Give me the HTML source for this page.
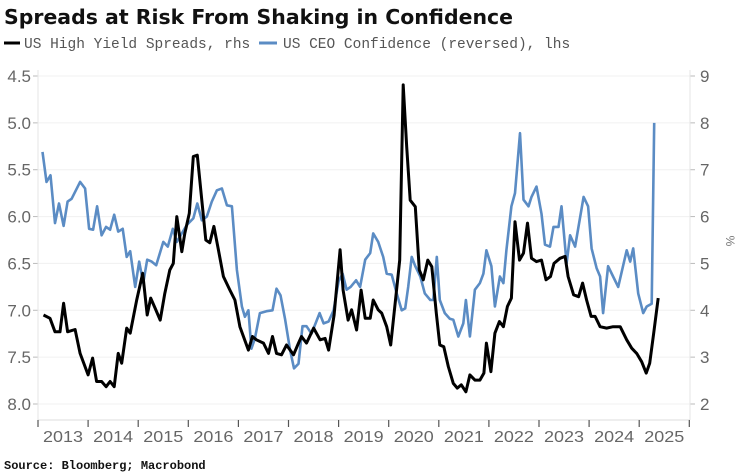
<!DOCTYPE html>
<html><head><meta charset="utf-8"><style>
body{margin:0;background:#fff;}
svg{display:block;}
</style></head><body>
<svg id="chart" width="737" height="476" viewBox="0 0 737 476" xmlns="http://www.w3.org/2000/svg">
<text x="4" y="24" font-family="DejaVu Sans, Liberation Sans, sans-serif" font-weight="bold" font-size="20" fill="#111" textLength="509" lengthAdjust="spacingAndGlyphs">Spreads at Risk From Shaking in Confidence</text>
<g>
<line x1="4" y1="43" x2="20" y2="43" stroke="#000" stroke-width="3"/>
<text x="24" y="48" font-family="Liberation Mono, monospace" font-size="14.5" fill="#555">US High Yield Spreads, rhs</text>
<line x1="259" y1="43" x2="277" y2="43" stroke="#5b8cc4" stroke-width="3"/>
<text x="283" y="48" font-family="Liberation Mono, monospace" font-size="14.5" fill="#555">US CEO Confidence (reversed), lhs</text>
</g>
<g id="grid"></g><g id="axes"></g><g id="series"></g>
<text x="0" y="0" transform="translate(726,241) rotate(90)" font-family="Liberation Sans, sans-serif" font-size="12" fill="#777" text-anchor="middle">%</text>
<text x="4" y="469" font-family="Liberation Mono, monospace" font-weight="bold" font-size="12" fill="#111">Source: Bloomberg; Macrobond</text>
</svg>
<script>
const years=[2013,2014,2015,2016,2017,2018,2019,2020,2021,2022,2023,2024,2025];
const leftTicks=[4.5,5.0,5.5,6.0,6.5,7.0,7.5,8.0];
const rightTicks=[9,8,7,6,5,4,3,2];
const hyDates=[2013.11,2013.24,2013.34,2013.44,2013.51,2013.59,2013.74,2013.84,2014.00,2014.09,2014.17,2014.27,2014.36,2014.44,2014.52,2014.60,2014.67,2014.77,2014.84,2014.97,2015.09,2015.18,2015.25,2015.34,2015.44,2015.53,2015.63,2015.70,2015.77,2015.87,2015.93,2016.02,2016.10,2016.18,2016.27,2016.35,2016.43,2016.51,2016.60,2016.70,2016.83,2016.93,2017.03,2017.20,2017.28,2017.36,2017.50,2017.60,2017.68,2017.76,2017.86,2017.96,2018.10,2018.20,2018.26,2018.36,2018.50,2018.63,2018.73,2018.80,2018.91,2019.03,2019.09,2019.19,2019.26,2019.36,2019.45,2019.53,2019.63,2019.69,2019.79,2019.86,2019.96,2020.04,2020.15,2020.22,2020.29,2020.36,2020.43,2020.53,2020.61,2020.69,2020.78,2020.86,2020.95,2021.02,2021.10,2021.19,2021.29,2021.37,2021.45,2021.54,2021.62,2021.72,2021.82,2021.90,2021.95,2022.04,2022.12,2022.21,2022.29,2022.37,2022.45,2022.52,2022.61,2022.69,2022.77,2022.85,2022.95,2023.05,2023.14,2023.23,2023.30,2023.42,2023.52,2023.58,2023.69,2023.79,2023.87,2023.95,2024.04,2024.12,2024.22,2024.35,2024.48,2024.62,2024.75,2024.85,2024.95,2025.05,2025.14,2025.21,2025.29,2025.38];
const hyValues=[3.90,3.83,3.54,3.54,4.15,3.54,3.59,3.08,2.62,2.98,2.48,2.48,2.37,2.48,2.37,3.08,2.87,3.62,3.51,4.22,4.79,3.90,4.26,4.04,3.79,4.36,4.86,5.00,6.00,5.25,5.64,6.07,7.28,7.31,6.35,5.50,5.44,5.79,5.29,4.72,4.43,4.22,3.65,3.15,3.44,3.37,3.30,3.08,3.44,3.08,3.05,3.26,3.05,3.30,3.44,3.30,3.62,3.37,3.40,3.15,3.90,5.29,4.43,3.79,4.01,3.58,4.43,3.83,3.83,4.22,4.01,3.94,3.65,3.26,4.36,5.07,8.81,7.49,6.35,6.21,4.86,4.65,5.07,4.93,3.94,3.26,3.22,2.80,2.44,2.34,2.41,2.26,2.62,2.51,2.51,2.66,3.30,2.69,3.51,3.76,3.65,4.08,4.26,5.89,5.07,5.22,5.86,5.11,5.04,5.07,4.65,4.72,5.00,5.11,5.15,4.72,4.33,4.29,4.58,4.22,3.87,3.87,3.65,3.62,3.65,3.65,3.37,3.19,3.08,2.90,2.66,2.87,3.51,4.26];
const ceoDates=[2013.09,2013.17,2013.25,2013.34,2013.42,2013.51,2013.59,2013.67,2013.84,2013.94,2014.02,2014.10,2014.18,2014.27,2014.36,2014.44,2014.52,2014.60,2014.69,2014.77,2014.84,2014.94,2015.02,2015.10,2015.18,2015.27,2015.36,2015.50,2015.59,2015.69,2015.77,2015.87,2015.97,2016.10,2016.18,2016.27,2016.37,2016.47,2016.57,2016.67,2016.77,2016.87,2016.97,2017.07,2017.13,2017.20,2017.26,2017.33,2017.43,2017.56,2017.68,2017.76,2017.84,2017.93,2018.03,2018.11,2018.20,2018.28,2018.36,2018.46,2018.62,2018.70,2018.80,2018.90,2019.00,2019.08,2019.16,2019.24,2019.35,2019.43,2019.53,2019.63,2019.69,2019.79,2019.89,2019.96,2020.06,2020.16,2020.26,2020.33,2020.39,2020.46,2020.53,2020.63,2020.72,2020.83,2020.89,2020.96,2021.02,2021.12,2021.22,2021.29,2021.39,2021.49,2021.54,2021.62,2021.72,2021.82,2021.89,2021.95,2022.05,2022.12,2022.22,2022.29,2022.35,2022.45,2022.52,2022.62,2022.69,2022.79,2022.85,2022.95,2023.05,2023.12,2023.22,2023.29,2023.39,2023.45,2023.55,2023.62,2023.72,2023.89,2023.98,2024.05,2024.15,2024.22,2024.28,2024.38,2024.48,2024.58,2024.75,2024.82,2024.88,2024.98,2025.08,2025.15,2025.25,2025.30];
const ceoValues=[5.31,5.63,5.56,6.07,5.86,6.10,5.84,5.81,5.63,5.70,6.13,6.14,5.89,6.20,6.11,6.14,5.98,6.16,6.13,6.43,6.37,6.75,6.48,6.71,6.46,6.48,6.52,6.27,6.32,6.13,6.27,6.18,6.09,6.02,5.86,6.04,6.00,5.84,5.72,5.70,5.88,5.89,6.57,6.96,7.07,7.00,7.41,7.30,7.03,7.01,7.00,6.77,6.84,7.09,7.42,7.62,7.57,7.17,7.17,7.25,7.03,7.14,7.12,7.00,6.69,6.61,6.78,6.75,6.68,6.75,6.46,6.39,6.18,6.27,6.43,6.61,6.62,6.82,7.00,6.98,6.75,6.43,6.53,6.64,6.82,6.89,6.89,6.43,6.89,7.03,7.09,7.10,7.28,7.14,6.89,7.28,6.78,6.71,6.61,6.36,6.53,6.96,6.64,6.71,6.36,5.89,5.75,5.11,5.82,5.89,5.79,5.68,5.97,6.30,6.32,6.11,6.11,5.89,6.50,6.20,6.32,5.79,5.89,6.34,6.55,6.64,7.03,6.53,6.64,6.75,6.36,6.48,6.34,6.82,7.03,6.96,6.93,5.00];

const NS='http://www.w3.org/2000/svg';
const X0=38, PXY=50.1, YT=76, YB=404;
function xs(d){return X0+(d-2013)*PXY;}
function yl(v){return YT+(v-4.5)*(YB-YT)/3.5;}
function yr(v){return YT+(9-v)*(YB-YT)/7;}
function mk(tag,attrs,parent){const e=document.createElementNS(NS,tag);for(const k in attrs)e.setAttribute(k,attrs[k]);parent.appendChild(e);return e;}
const grid=document.getElementById('grid'),axes=document.getElementById('axes'),series=document.getElementById('series');
leftTicks.forEach(v=>{
  const y=yl(v);
  const g=mk('line',{x1:X0,x2:690,y1:y,y2:y,stroke:'#f0f0f0','stroke-width':1},grid);
  
  
  const t=mk('line',{x1:33,x2:38,y1:y,y2:y,stroke:'#bbb'},axes);
  
  
  const l=mk('text',{x:31,y:y+6,'text-anchor':'end','font-family':'Liberation Sans, sans-serif','font-size':17,fill:'#666'},axes);
  l.textContent=v.toFixed(1);
  
  
});
rightTicks.forEach(v=>{
  const y=yr(v);
  const t=mk('line',{x1:690,x2:695,y1:y,y2:y,stroke:'#bbb'},axes);
  
  
  const l=mk('text',{x:700,y:y+6,'font-family':'Liberation Sans, sans-serif','font-size':17,fill:'#666'},axes);
  l.textContent=String(v);
  
  
});
const la=mk('line',{x1:X0,x2:X0,y1:70,y2:420,stroke:'#e6e6e6'},axes);


const ra=mk('line',{x1:690,x2:690,y1:70,y2:420,stroke:'#e6e6e6'},axes);


const xa=mk('line',{x1:X0,x2:690,y1:420,y2:420,stroke:'#ddd'},axes);


for(let i=0;i<=years.length;i++){
  const x=xs(2013+i);
  const t=mk('line',{x1:x,x2:x,y1:420,y2:427,stroke:'#555','stroke-width':1.2},axes);
  
  
}
years.forEach(yv=>{
  const l=mk('text',{x:xs(yv+0.5),y:442,'text-anchor':'middle','font-family':'Liberation Sans, sans-serif','font-size':16,fill:'#666',textLength:40,lengthAdjust:'spacingAndGlyphs'},axes);
  l.textContent=String(yv);
  
  
});
function path(dates,vals,yf){return dates.map((d,i)=>(i?'L':'M')+xs(d).toFixed(1)+','+yf(vals[i]).toFixed(1)).join(' ');}
const ceo=mk('path',{d:path(ceoDates,ceoValues,yl),fill:'none',stroke:'#5b8cc4','stroke-width':2.6,'stroke-linejoin':'round'},series);


const hy=mk('path',{d:path(hyDates,hyValues,yr),fill:'none',stroke:'#000','stroke-width':3,'stroke-linejoin':'round'},series);


</script>
</body></html>
